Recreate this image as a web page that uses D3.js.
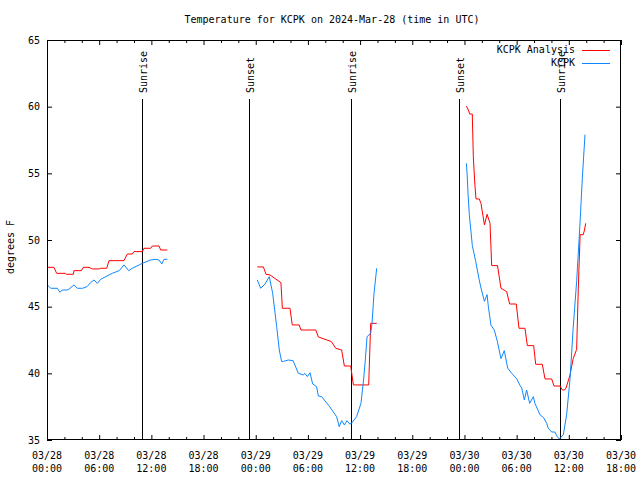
<!DOCTYPE html>
<html><head><meta charset="utf-8">
<script src="https://cdn.jsdelivr.net/npm/d3@7"></script>
<style>
body{margin:0;background:#fff;}
text{font-family:"DejaVu Sans Mono",monospace;font-size:10px;fill:#000;}
</style></head>
<body><svg id="c" width="640" height="480"></svg>
<script>
// ---- data (hours since 2024-03-28 00:00 UTC) ----
const startUTC = Date.UTC(2024, 2, 28, 0, 0);
const obsHours = [0.04,0.42,1.19,1.49,1.75,2.3,2.5,3.1,3.5,4.1,4.6,5.0,5.4,5.8,6.17,6.75,7.5,8.3,8.85,9.4,9.8,10.6,10.96,11.9,12.5,12.88,13.2,13.45,13.84,
  null,
  24.18,24.57,25.07,25.56,25.95,26.41,26.71,26.98,27.2,27.75,28.3,28.9,29.47,29.66,29.93,30.24,30.55,31.0,31.2,31.58,32.5,33.3,33.6,33.88,34.19,34.5,34.8,35.0,35.6,36.1,36.4,36.6,36.8,37.22,37.37,37.6,37.91,
  null,
  48.22,48.3,48.41,48.56,48.71,48.9,49.29,49.67,49.9,50.3,50.6,50.75,51.05,51.43,51.78,52.2,52.58,52.97,53.43,54.0,54.39,54.58,54.89,55.15,55.5,55.92,56.1,56.7,57.1,57.45,57.64,58.03,58.4,58.68,58.9,59.1,59.37,59.75,60.14,60.5,60.9,61.3,61.55,61.86];
const obsTemps = [46.63,46.38,46.38,46.08,46.25,46.25,46.3,46.63,46.38,46.38,46.5,46.8,47.0,46.75,47.05,47.25,47.5,47.7,48.13,47.7,47.88,48.13,48.25,48.5,48.55,48.5,48.2,48.55,48.55,
  null,
  47.0,46.38,46.7,47.25,46.0,43.5,41.75,40.88,40.9,41.0,40.95,40.0,39.88,40.0,39.75,40.05,39.2,39.0,38.3,38.25,37.5,36.75,36.0,36.45,36.13,36.45,36.2,36.25,36.75,37.75,39.5,41.0,42.75,43.0,43.75,46.0,47.88,
  null,
  55.75,55.0,53.5,51.9,50.9,49.6,48.4,47.1,46.4,45.4,45.9,45.0,43.6,43.25,42.4,41.1,41.7,40.4,40.0,39.6,39.1,38.9,38.0,38.75,37.75,38.25,37.75,36.88,36.68,36.25,35.88,35.6,35.6,35.25,35.07,35.2,35.4,36.9,39.6,43.4,46.9,51.4,54.6,57.9];
const anaHours = [0.04,0.8,1.11,2.1,2.2,3.03,3.1,3.95,4.18,4.83,5.2,5.98,6.17,6.86,7.13,8.85,9.24,9.81,10.0,10.96,11.15,11.92,12.11,12.88,13.07,13.84,
  null,
  24.18,24.88,25.18,25.64,26.9,27.06,27.94,28.2,29.0,29.2,30.9,31.2,32.7,33.2,33.88,34.19,34.92,35.23,36.99,37.22,37.91,
  null,
  48.22,48.45,48.6,48.9,49.02,49.2,49.33,49.7,49.9,50.3,50.6,50.94,51.13,51.8,52.2,52.85,53.2,53.96,54.27,54.96,55.23,55.96,56.19,56.95,57.26,58.03,58.3,59.0,59.25,59.5,59.68,60.14,60.5,60.9,61.09,61.3,61.66,61.8,61.94];
const anaTemps = [47.95,47.95,47.5,47.5,47.43,47.43,47.7,47.7,47.95,47.95,47.83,47.83,47.88,47.88,48.45,48.45,48.95,48.95,49.13,49.13,49.38,49.38,49.55,49.55,49.25,49.25,
  null,
  47.98,47.98,47.43,47.38,46.8,44.88,44.88,43.63,43.63,43.25,43.25,42.73,42.38,41.88,41.75,40.55,40.55,39.13,39.13,43.75,43.75,
  null,
  60.05,59.75,59.45,59.45,56.25,54.1,53.08,53.08,52.75,51.13,51.93,51.25,48.08,48.08,46.38,46.13,45.2,45.2,43.38,43.38,42.08,42.08,40.68,40.68,39.58,39.58,39.05,39.05,38.75,38.75,38.9,39.88,41.1,41.8,46.4,50.4,50.4,50.75,51.25];
const eventHours = [10.96, 23.26, 34.99, 47.41, 59.02];
const eventLabels = ["Sunrise", "Sunset", "Sunrise", "Sunset", "Sunrise"];
const yTicks = [35, 40, 45, 50, 55, 60, 65];
const xTickHours = [0, 6, 12, 18, 24, 30, 36, 42, 48, 54, 60, 66];
const seriesNames = ["KCPK Analysis", "KCPK"];
const seriesColors = ["#ff0000", "#0f87ff"];
const titleText = "Temperature for KCPK on 2024-Mar-28 (time in UTC)";
const yLabel = "degrees F";

// ---- drawing ----
const toDate = h => new Date(startUTC + h * 3600e3);
const L = 47, R = 621, T = 40, B = 440;
const svg = d3.select("#c");
const x = d3.scaleUtc().domain([toDate(0), toDate(66)]).range([L, R]);
const y = d3.scaleLinear().domain([35, 65]).range([B, T]);

svg.append("text").attr("x", 332).attr("y", 20).attr("text-anchor", "middle")
  .attr("dominant-baseline", "middle").text(titleText);
svg.append("text").attr("transform", "translate(11,247) rotate(-90)")
  .attr("text-anchor", "middle").attr("dominant-baseline", "middle").text(yLabel);

const minorHours = d3.range(0, 67, 2).filter(h => h % 6 !== 0);
function styleAxis(g) { g.select(".domain").remove(); g.selectAll("line").attr("stroke", "#000"); g.selectAll("text").remove(); }
svg.append("g").attr("transform", `translate(0,${B})`)
  .call(d3.axisBottom(x).tickValues(xTickHours.map(toDate)).tickSize(-5)).call(styleAxis);
svg.append("g").attr("transform", `translate(0,${B})`)
  .call(d3.axisBottom(x).tickValues(minorHours.map(toDate)).tickSize(-3)).call(styleAxis);
svg.append("g").attr("transform", `translate(0,${T})`)
  .call(d3.axisTop(x).tickValues(xTickHours.map(toDate)).tickSize(-5)).call(styleAxis);
svg.append("g").attr("transform", `translate(0,${T})`)
  .call(d3.axisTop(x).tickValues(minorHours.map(toDate)).tickSize(-3)).call(styleAxis);
svg.append("g").attr("transform", `translate(${R},0)`)
  .call(d3.axisRight(y).tickValues(yTicks).tickSize(-5)).call(styleAxis);
const yAx = svg.append("g").attr("transform", `translate(${L},0)`)
  .call(d3.axisLeft(y).tickValues(yTicks).tickSize(-5).tickPadding(7));
yAx.select(".domain").remove();
yAx.selectAll("line").attr("stroke", "#000");
yAx.selectAll("text").style("font-family", "DejaVu Sans Mono").style("font-size", "10px").attr("fill", "#000");

const fmtD = d3.utcFormat("%m/%d"), fmtT = d3.utcFormat("%H:%M");
xTickHours.forEach(h => {
  const d = toDate(h);
  svg.append("text").attr("x", x(d)).attr("y", 455.5).attr("text-anchor", "middle").attr("dominant-baseline", "middle").text(fmtD(d));
  svg.append("text").attr("x", x(d)).attr("y", 468.5).attr("text-anchor", "middle").attr("dominant-baseline", "middle").text(fmtT(d));
});

// event lines
eventHours.forEach((h, i) => {
  const xp = Math.round(x(toDate(h))) + 0.5;
  svg.append("line").attr("x1", xp).attr("x2", xp).attr("y1", 99).attr("y2", B).attr("stroke", "#000").attr("stroke-width", 1);
  svg.append("text").attr("transform", `translate(${xp + 1.5},93) rotate(-90)`)
    .attr("text-anchor", "start").attr("dominant-baseline", "middle").text(eventLabels[i]);
});

// series
const line = d3.line().defined(d => d[1] != null).x(d => x(toDate(d[0]))).y(d => y(d[1]));
const anaData = anaHours.map((h, i) => [h, anaTemps[i]]);
const obsData = obsHours.map((h, i) => [h, obsTemps[i]]);
svg.append("path").datum(anaData).attr("d", line).attr("fill", "none").attr("stroke", seriesColors[0]).attr("stroke-width", 1);
svg.append("path").datum(obsData).attr("d", line).attr("fill", "none").attr("stroke", seriesColors[1]).attr("stroke-width", 1);

// border
svg.append("rect").attr("x", L + 0.5).attr("y", T + 0.5).attr("width", R - L - 1).attr("height", B - T - 1)
  .attr("fill", "none").attr("stroke", "#000").attr("stroke-width", 1);

// legend
[50, 63].forEach((ly, i) => {
  svg.append("text").attr("x", 575).attr("y", ly).attr("text-anchor", "end").attr("dominant-baseline", "middle").text(seriesNames[i]);
  svg.append("line").attr("x1", 582).attr("x2", 610).attr("y1", ly + 0.5).attr("y2", ly + 0.5).attr("stroke", seriesColors[i]).attr("stroke-width", 1);
});
</script></body></html>
